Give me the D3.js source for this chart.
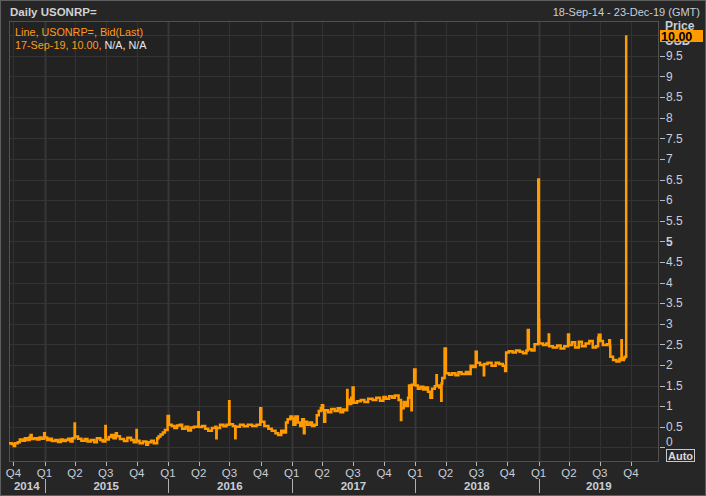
<!DOCTYPE html>
<html><head><meta charset="utf-8">
<script src="https://cdn.jsdelivr.net/npm/d3@7/dist/d3.min.js"></script>
<style>
html,body{margin:0;padding:0;background:#262626;overflow:hidden;}
svg{display:block;font-family:"Liberation Sans",Arial,sans-serif;}
</style></head><body>
<svg id="c" width="706" height="496"></svg>
<script>
// ---------- data ----------
const title = "Daily USONRP=";
const rangeLabel = "18-Sep-14 - 23-Dec-19 (GMT)";
const legendLine1 = "Line, USONRP=, Bid(Last)";
const legendDate = "17-Sep-19, 10.00,";
const legendNA = "N/A, N/A";
const lastValueLabel = "10.00";
const axisTitle = ["Price", "USD"];
const domainStart = "2014-09-18";
const domainEnd = "2019-12-23";
const yTickValues = [0,0.5,1,1.5,2,2.5,3,3.5,4,4.5,5,5.5,6,6.5,7,7.5,8,8.5,9,9.5];
const yGridValues = [0,0.5,1,1.5,2,2.5,3,3.5,4,4.5,5,5.5,6,6.5,7,7.5,8,8.5,9,9.5,10];
const yearLabels = ["2014","2015","2016","2017","2018","2019"];

const bid2014 = [["09-18",0.10],["09-26",0.08],["10-02",0.03],["10-06",0.10],["10-14",0.12],["10-20",0.19],["10-28",0.16],["11-04",0.22],["11-11",0.18],["11-18",0.25],["11-21",0.30],["11-24",0.20],["12-02",0.22],["12-10",0.19],["12-17",0.24],["12-23",0.21],["12-31",0.34]];
const bid2015 = [["01-02",0.24],["01-09",0.18],["01-16",0.21],["01-23",0.15],["02-02",0.18],["02-10",0.13],["02-18",0.19],["02-25",0.15],["03-05",0.18],["03-12",0.21],["03-19",0.14],["03-25",0.22],["03-31",0.58],["04-01",0.26],["04-10",0.21],["04-20",0.16],["04-30",0.20],["05-08",0.14],["05-18",0.18],["05-28",0.12],["06-05",0.22],["06-15",0.18],["06-22",0.14],["06-30",0.52],["07-01",0.19],["07-10",0.25],["07-17",0.30],["07-24",0.22],["07-31",0.34],["08-03",0.27],["08-12",0.20],["08-24",0.15],["09-03",0.23],["09-14",0.18],["09-22",0.12],["09-30",0.42],["10-01",0.16],["10-09",0.10],["10-19",0.14],["10-29",0.06],["11-03",0.12],["11-12",0.16],["11-20",0.10],["11-30",0.22],["12-04",0.26],["12-10",0.31],["12-17",0.36],["12-23",0.42],["12-31",0.76]];
const bid2016 = [["01-04",0.55],["01-12",0.52],["01-20",0.47],["01-28",0.53],["02-05",0.55],["02-12",0.45],["02-22",0.50],["03-01",0.41],["03-09",0.48],["03-18",0.50],["03-31",0.85],["04-01",0.49],["04-11",0.52],["04-20",0.45],["04-29",0.40],["05-10",0.47],["05-20",0.50],["05-23",0.22],["05-24",0.47],["06-03",0.55],["06-13",0.51],["06-22",0.55],["06-30",1.12],["07-01",0.56],["07-11",0.52],["07-18",0.22],["07-19",0.50],["08-01",0.55],["08-12",0.51],["08-24",0.55],["09-06",0.52],["09-19",0.55],["09-30",0.95],["10-03",0.62],["10-12",0.52],["10-24",0.45],["11-03",0.40],["11-14",0.34],["11-22",0.30],["12-01",0.40],["12-08",0.36],["12-15",0.60],["12-20",0.68],["12-28",0.75]];
const bid2017 = [["01-03",0.70],["01-06",0.55],["01-12",0.75],["01-19",0.60],["01-26",0.52],["02-01",0.68],["02-06",0.34],["02-08",0.62],["02-16",0.55],["02-24",0.60],["03-02",0.52],["03-09",0.55],["03-16",0.78],["03-22",0.88],["03-28",0.95],["03-31",1.02],["04-04",0.90],["04-07",0.62],["04-10",0.90],["04-19",0.85],["04-28",0.93],["05-08",0.88],["05-17",0.95],["05-25",0.85],["06-02",0.92],["06-09",0.90],["06-14",1.39],["06-15",1.15],["06-20",1.05],["06-26",1.20],["06-30",1.45],["07-03",1.08],["07-13",1.12],["07-24",1.15],["08-04",1.10],["08-15",1.18],["08-28",1.15],["09-08",1.20],["09-19",1.13],["09-29",1.22],["10-06",1.18],["10-16",1.24],["10-25",1.20],["11-02",1.26],["11-13",1.15],["11-20",0.66],["11-21",0.95],["11-28",1.10],["12-04",1.00],["12-11",1.20],["12-14",1.50],["12-21",0.90],["12-22",1.52],["12-29",1.89]];
const bid2018 = [["01-02",1.50],["01-09",1.42],["01-17",1.47],["01-25",1.40],["02-01",1.45],["02-08",1.35],["02-15",1.20],["02-20",1.42],["02-28",1.48],["03-05",1.75],["03-06",1.50],["03-13",1.45],["03-19",1.13],["03-20",1.55],["03-22",1.68],["03-29",2.40],["04-02",1.80],["04-11",1.76],["04-20",1.80],["04-30",1.75],["05-09",1.82],["05-18",1.78],["05-31",1.83],["06-07",1.78],["06-14",1.98],["06-21",1.95],["06-29",2.32],["07-02",2.05],["07-12",2.00],["07-23",1.75],["07-24",2.02],["08-03",2.05],["08-15",1.98],["08-27",2.05],["09-06",2.02],["09-17",1.98],["09-24",1.85],["09-27",2.30],["10-05",2.33],["10-16",2.30],["10-26",2.35],["11-06",2.32],["11-16",2.28],["11-26",2.35],["11-30",2.85],["12-03",2.38],["12-11",2.35],["12-20",2.50],["12-31",6.50]];
const bid2019 = [["01-02",3.09],["01-03",2.52],["01-14",2.48],["01-24",2.52],["01-31",2.74],["02-01",2.45],["02-12",2.42],["02-25",2.47],["03-07",2.40],["03-18",2.45],["03-29",2.74],["04-01",2.48],["04-10",2.55],["04-19",2.42],["04-30",2.56],["05-09",2.45],["05-20",2.52],["05-31",2.58],["06-10",2.42],["06-20",2.45],["06-26",2.66],["06-28",2.73],["07-03",2.58],["07-10",2.48],["07-22",2.50],["07-29",2.60],["07-31",2.45],["08-01",2.20],["08-09",2.12],["08-19",2.08],["08-28",2.15],["09-03",2.60],["09-04",2.12],["09-10",2.16],["09-13",2.20],["09-17",10.00]];

// ---------- build ----------
const parse = d3.timeParse("%Y-%m-%d");
const series = [[2014,bid2014],[2015,bid2015],[2016,bid2016],[2017,bid2017],[2018,bid2018],[2019,bid2019]]
  .flatMap(([yr, arr]) => arr.map(([md, v]) => ({date: parse(yr + "-" + md), value: v})));

const W = 706, H = 496;
const plot = {left: 9, right: 659, top: 21, bottom: 462};
const svg = d3.select("#c");

const x = d3.scaleTime().domain([parse(domainStart), parse(domainEnd)]).range([plot.left, plot.right]);
const y = d3.scaleLinear().domain([0, 10]).range([447.3, 35.3]);

// background
svg.append("rect").attr("x",0).attr("y",0).attr("width",W).attr("height",H).attr("fill","#262626");
svg.append("rect").attr("x",0.5).attr("y",0.5).attr("width",W-1).attr("height",H-1)
  .attr("fill","none").attr("stroke","#5e5e5e");
svg.append("rect").attr("x",plot.left).attr("y",plot.top).attr("width",plot.right-plot.left).attr("height",plot.bottom-plot.top)
  .attr("fill","#222222");

// grid
const quarters = d3.timeMonth.every(3).range(parse("2014-10-01"), x.domain()[1]);
const gGrid = svg.append("g");
gGrid.selectAll("line.h").data(yGridValues).join("line")
  .attr("x1",plot.left).attr("x2",plot.right)
  .attr("y1",d=>Math.round(y(d))+0.5).attr("y2",d=>Math.round(y(d))+0.5)
  .attr("stroke","#343434").attr("stroke-width",1);
gGrid.selectAll("line.v").data(quarters).join("line")
  .attr("x1",d=>Math.round(x(d))+0.5).attr("x2",d=>Math.round(x(d))+0.5)
  .attr("y1",plot.top).attr("y2",plot.bottom)
  .attr("stroke",d=>d.getMonth()===0?"#363636":"#323232")
  .attr("stroke-width",d=>d.getMonth()===0?2:1);

// plot frame
svg.append("rect").attr("x",plot.left+0.5).attr("y",plot.top+0.5)
  .attr("width",plot.right-plot.left-1).attr("height",plot.bottom-plot.top-1)
  .attr("fill","none").attr("stroke","#505050");

// line
svg.append("clipPath").attr("id","clip").append("rect")
  .attr("x",plot.left).attr("y",plot.top).attr("width",plot.right-plot.left).attr("height",plot.bottom-plot.top);
const line = d3.line().x(d=>x(d.date)).y(d=>y(d.value)).curve(d3.curveStepAfter);
svg.append("path").datum(series).attr("d",line).attr("clip-path","url(#clip)")
  .attr("fill","none").attr("stroke","#ff9a00").attr("stroke-width",2.5).attr("stroke-linejoin","miter");

// y axis (right)
const gy = svg.append("g");
gy.selectAll("line").data(yTickValues).join("line")
  .attr("x1",plot.right+1).attr("x2",plot.right+6)
  .attr("y1",d=>Math.round(y(d))+0.5).attr("y2",d=>Math.round(y(d))+0.5)
  .attr("stroke","#b8b8b8");
gy.selectAll("text").data(yTickValues).join("text")
  .attr("x",666).attr("y",d=>d===0? y(d)-6 : y(d)).attr("dy","0.36em")
  .attr("fill","#c9ced6").attr("font-size",12)
  .attr("font-weight",d=>d===5?"bold":"normal")
  .text(d=>d3.format("~g")(d));
svg.append("text").attr("x",665).attr("y",29.5).attr("fill","#c9ced6").attr("font-size",12).attr("font-weight","bold").text(axisTitle[0]);
svg.append("text").attr("x",665).attr("y",45).attr("fill","#c9ced6").attr("font-size",12).attr("font-weight","bold").text(axisTitle[1]);
svg.append("rect").attr("x",660).attr("y",30).attr("width",43).attr("height",12).attr("fill","#ff9a00");
svg.append("text").attr("x",661).attr("y",40.5).attr("fill","#000").attr("font-size",12.5).attr("font-weight","bold").text(lastValueLabel);

// Auto box
svg.append("rect").attr("x",666.5).attr("y",449.5).attr("width",28).attr("height",12)
  .attr("fill","#262626").attr("stroke","#c8c8c8");
svg.append("text").attr("x",680.5).attr("y",459.5).attr("text-anchor","middle")
  .attr("fill","#d8d8d8").attr("font-size",11).attr("font-weight","bold").text("Auto");

// x axis
const gx = svg.append("g");
gx.selectAll("line").data(quarters).join("line")
  .attr("x1",d=>Math.round(x(d))+0.5).attr("x2",d=>Math.round(x(d))+0.5)
  .attr("y1",plot.bottom).attr("y2",plot.bottom+4).attr("stroke","#b8b8b8");
gx.selectAll("text").data(quarters).join("text")
  .attr("x",d=>x(d)).attr("y",477).attr("text-anchor","middle")
  .attr("fill","#c9ced6").attr("font-size",11.5)
  .text(d=>"Q"+(Math.floor(d.getMonth()/3)+1));
const yearStarts = yearLabels.map(s=>parse(s+"-01-01"));
svg.append("g").selectAll("line").data(yearStarts.slice(1)).join("line")
  .attr("x1",d=>Math.round(x(d))+0.5).attr("x2",d=>Math.round(x(d))+0.5)
  .attr("y1",479).attr("y2",493).attr("stroke","#b0b0b0");
svg.append("g").selectAll("text").data(yearLabels).join("text")
  .attr("x",(s,i)=>{
    const a = Math.max(x(yearStarts[i]), plot.left);
    const b = Math.min(x(d3.timeYear.offset(yearStarts[i],1)), plot.right);
    return (a+b)/2;})
  .attr("y",490).attr("text-anchor","middle")
  .attr("fill","#c9ced6").attr("font-size",11.5).attr("font-weight","bold")
  .text(d=>d);

// header and legend
svg.append("text").attr("x",10).attr("y",15.5).attr("fill","#d2d2d2").attr("font-size",11.5).attr("font-weight","bold").text(title);
svg.append("text").attr("x",700).attr("y",16).attr("text-anchor","end").attr("fill","#c9ced6").attr("font-size",11).text(rangeLabel);
svg.append("text").attr("x",15).attr("y",35.5).attr("fill","#ff9a1e").attr("font-size",10.8).text(legendLine1);
const l2 = svg.append("text").attr("x",15).attr("y",49).attr("font-size",10.8);
l2.append("tspan").attr("fill","#ff9a1e").text(legendDate + " ");
l2.append("tspan").attr("fill","#e8e8e8").text(legendNA);
</script>
</body></html>
